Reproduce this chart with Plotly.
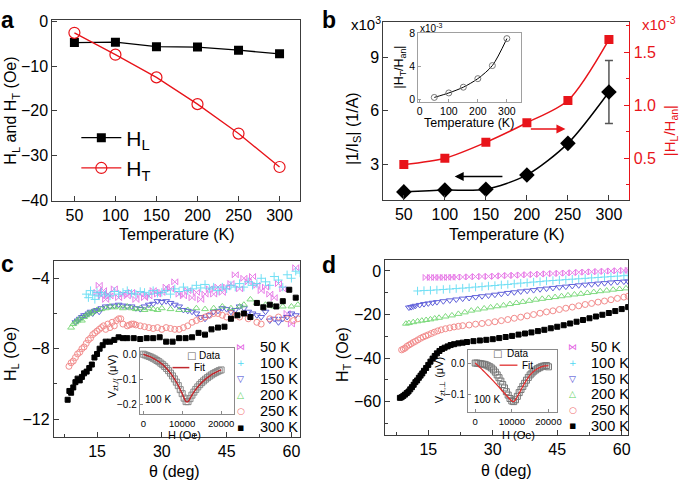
import plotly.graph_objects as go

FONT = "Arial, 'Liberation Sans', sans-serif"
W, H = 685, 490


def fx(px):
    return px / W


def fy(py):
    return 1 - py / H


# ---------------- data ----------------
temperature = [50, 100, 150, 200, 250, 300]
HL_a = [-4.7, -4.6, -5.6, -5.7, -6.4, -7.2]
HT_a = [-2.5, -7.4, -12.5, -18.5, -25.1, -32.6]

inv_Is = [1.45, 1.55, 1.6, 2.4, 4.17, 7.05]          # x10^3 (1/A)
inv_Is_err = [0, 0, 0, 0, 0, 1.76]
HL_Han = [0.44, 0.50, 0.65, 0.835, 1.045, 1.62]       # x10^-3
HT_Han = [0.2, 0.75, 1.45, 2.5, 4.1, 7.4]             # x10^-3 (inset)

# panel c : H_L vs theta
c50_t = [15, 15.5, 16, 16.5, 17, 17.5, 18, 19, 20, 21, 22, 23, 24, 25, 26, 27, 28, 29, 30, 31, 32, 33, 34, 35,
         36, 37, 38, 39, 40, 41, 42, 43, 44, 45, 46, 47, 48, 49, 50, 51, 52, 53, 54, 55, 56, 57, 58, 59, 60, 61]
c50_v = [-4.8, -4.4, -5.0, -4.7, -5.2, -4.9, -5.0, -4.6, -5.1, -4.9, -5.0, -4.8, -5.2, -4.9, -5.1, -5.0, -4.7,
         -4.9, -4.8, -4.5, -4.6, -4.2, -4.9, -5.0, -4.7, -5.1, -4.8, -5.2, -4.9, -4.6, -4.9, -4.5, -4.8, -4.5,
         -4.3, -3.8, -4.6, -4.0, -4.2, -3.9, -4.4, -4.7, -4.5, -4.9, -5.1, -4.3, -4.6, -6.0, -6.6, -3.4]
c100_t = [12.5, 13, 13.5, 14, 14.5, 15, 15.5, 16, 17, 18, 19, 20, 21, 22, 23, 24, 25, 26, 27, 28, 29, 30, 31,
          32, 33, 34, 35, 36, 37, 38, 39, 40, 41, 42, 43, 44, 45, 46, 47, 48, 49, 50, 51, 52, 53, 54, 55, 56,
          57, 58, 59, 60, 61, 62]
c100_v = [-4.9, -5.1, -4.7, -4.95, -5.2, -4.8, -5.0, -4.8, -4.9, -5.0, -4.75, -4.9, -4.8, -4.7, -4.85, -4.9,
          -4.75, -4.8, -4.9, -4.7, -4.85, -4.8, -4.7, -4.9, -4.6, -4.75, -4.5, -4.7, -4.6, -4.4, -4.55, -4.35,
          -4.6, -4.5, -4.7, -4.5, -4.6, -4.4, -4.5, -4.3, -4.5, -4.2, -4.4, -4.3, -4.0, -4.2, -4.4, -3.9, -4.1,
          -4.5, -3.8, -4.0, -3.6, -3.7]
c150_t = [10, 10.5, 11, 11.5, 12, 12.5, 13, 13.5, 14, 14.5, 15, 15.5, 16, 17, 18, 19, 20, 21, 22, 23, 24, 25,
          26, 27, 28, 29, 30, 31, 32, 33, 34, 35, 36, 37, 38, 39, 40, 41, 42, 43, 44, 45, 46, 47, 48, 49, 50,
          51, 52, 53, 54, 55, 56, 57, 58, 59, 60, 61]
c150_v = [-6.5, -6.4, -6.3, -6.2, -6.1, -6.1, -6.0, -5.9, -6.0, -5.85, -5.8, -5.9, -5.7, -5.6, -5.6, -5.55,
          -5.5, -5.55, -5.6, -5.6, -5.7, -5.75, -5.6, -5.5, -5.45, -5.3, -5.35, -5.3, -5.4, -5.5, -5.6, -5.8,
          -5.85, -5.9, -6.0, -6.2, -6.3, -6.1, -5.9, -5.85, -5.7, -5.75, -5.9, -5.8, -5.6, -5.7, -5.9, -6.0,
          -6.1, -6.2, -5.9, -6.4, -6.3, -6.5, -6.3, -6.2, -6.0, -6.1]
c200_t = [9, 9.5, 10, 10.5, 11, 11.5, 12, 12.5, 13, 13.5, 14, 15, 16, 17, 18, 19, 20, 21, 22, 23, 24, 25, 26,
          27, 28, 29, 30, 32, 34, 36, 38, 40, 42, 44, 46, 48, 49, 50.5, 52, 54, 56, 58, 60, 61.5]
c200_v = [-6.8, -6.6, -6.5, -6.4, -6.3, -6.4, -6.2, -6.1, -6.0, -6.0, -5.9, -5.8, -5.75, -5.7, -5.6, -5.65,
          -5.6, -5.7, -5.6, -5.7, -5.75, -5.7, -5.8, -5.7, -5.75, -5.8, -5.7, -5.75, -5.8, -5.8, -5.7, -5.75,
          -5.7, -5.6, -5.7, -5.6, -5.5, -5.2, -5.4, -5.5, -5.6, -5.6, -5.6, -5.5]
c250_t = [8.5, 9, 9.5, 10, 10.5, 11, 11.5, 12, 12.5, 13, 13.5, 14, 14.5, 15, 15.5, 16, 16.5, 17, 17.5, 18,
          18.5, 19, 19.5, 20, 20.5, 21, 22, 22.5, 23, 23.5, 24, 25, 26, 27, 28, 29, 30, 31, 32, 33, 34, 35, 36,
          37, 38, 39, 40, 41, 42, 43, 44, 45, 46, 47, 48, 50, 52, 53, 55, 57, 59, 60.5, 61.5]
c250_v = [-9.0, -8.8, -8.7, -8.5, -8.3, -8.2, -8.0, -7.9, -7.7, -7.5, -7.4, -7.2, -7.1, -7.0, -6.9, -6.8,
          -6.7, -6.9, -6.6, -6.8, -6.5, -6.7, -6.4, -6.3, -6.3, -6.6, -6.7, -6.65, -6.6, -6.6, -6.65, -6.7,
          -6.75, -6.8, -6.85, -6.8, -6.9, -6.8, -6.85, -6.9, -6.9, -6.8, -6.7, -6.5, -6.4, -6.3, -6.2, -6.1,
          -6.0, -6.0, -6.1, -6.2, -6.0, -6.1, -6.2, -6.3, -6.5, -6.6, -6.3, -6.2, -6.3, -6.4, -6.3]
c300_t = [8.2, 8.6, 9.0, 9.5, 10.0, 10.5, 11.0, 11.5, 12.0, 12.6, 13.2, 13.8, 14.4, 15.0, 15.6, 16.3, 17.0,
          18.0, 19.0, 20.0, 21.0, 22.0, 23.5, 25.0, 26.5, 28.0, 29.5, 31.0, 32.5, 34.0, 35.5, 37.0, 38.5, 40.0,
          41.5, 43.0, 44.5, 46.0, 47.5, 49.0, 50.5, 52.0, 53.5, 55.0, 56.5, 58.0, 59.5, 61.0]
c300_v = [-10.9, -10.4, -10.5, -10.2, -9.9, -9.7, -9.8, -9.6, -9.4, -9.3, -9.1, -8.9, -8.5, -8.3, -8.0, -7.8,
          -7.6, -7.6, -7.5, -7.35, -7.4, -7.4, -7.4, -7.45, -7.4, -7.4, -7.35, -7.6, -7.6, -7.4, -7.4, -7.35,
          -7.1, -7.2, -6.9, -6.8, -6.75, -6.3, -6.1, -6.0, -6.2, -5.4, -5.65, -5.5, -5.6, -5.3, -4.65, -5.1]

# panel d : H_T vs theta
d50_t = [14.5, 15.5, 16.5, 17.5, 18.5, 19.5, 20.5, 21.5, 23, 24.5, 26, 27.5, 29, 30.5, 32, 33.5, 35, 36.5, 38,
         39.5, 41, 42.5, 44, 45.5, 47, 48.5, 50, 51.5, 53, 54.5, 56, 57.5, 59, 60.5, 61.5]
d50_v = [-3.0, -3.0, -3.0, -3.0, -3.0, -2.95, -2.9, -2.85, -2.8, -2.7, -2.6, -2.55, -2.5, -2.4, -2.2, -2.1,
         -2.0, -1.85, -1.7, -1.6, -1.45, -1.3, -1.2, -1.05, -0.95, -0.8, -0.6, -0.5, -0.4, -0.25, -0.1, 0.0,
         0.1, 0.2, 0.3]
d100_t = [12.5, 14, 15.5, 17, 18.5, 20, 21.5, 23, 24.5, 26, 27.5, 29, 30.5, 32, 33.5, 35, 36.5, 38, 39.5, 41,
          42.5, 44, 45.5, 47, 48.5, 50, 51.5, 53, 54.5, 56, 57.5, 59, 60.5, 61.5]
d100_v = [-9.2, -9.0, -8.9, -8.7, -8.5, -8.3, -8.1, -7.9, -7.7, -7.4, -7.2, -6.9, -6.7, -6.4, -6.2, -5.9,
          -5.6, -5.4, -5.1, -4.9, -4.6, -4.4, -4.2, -4.0, -3.8, -3.6, -3.4, -3.2, -3.0, -2.8, -2.6, -2.4,
          -2.2, -2.0]
d150_t = [10.5, 11, 11.5, 12, 13, 14, 15, 16, 17, 18.5, 20, 21.5, 23, 24.5, 26, 27.5, 29, 30.5, 32, 33.5,
          35, 36.5, 38, 39.5, 41, 42.5, 44, 45.5, 47, 48.5, 50, 51.5, 53, 54.5, 56, 57.5, 59, 60.5, 61.5]
d150_v = [-16.8, -16.6, -16.3, -16.0, -15.6, -15.2, -14.9, -14.6, -14.3, -13.9, -13.5, -13.1, -12.7, -12.4,
          -12.0, -11.6, -11.3, -10.9, -10.5, -10.1, -9.8, -9.4, -9.1, -8.8, -8.4, -8.1, -7.8, -7.5, -7.2,
          -6.9, -6.6, -6.3, -6.1, -5.8, -5.6, -5.3, -5.1, -4.9, -4.8]
d200_t = [9.8, 10.5, 11.5, 12.5, 13.5, 14.5, 15.5, 16.5, 17.5, 19, 20.5, 22, 23.5, 25, 26.5, 28, 29.5, 31,
          32.5, 34, 35.5, 37, 38.5, 40, 41.5, 43, 44.5, 46, 47.5, 49, 50.5, 52, 53.5, 55, 56.5, 58, 59.5, 61]
d200_v = [-24.2, -23.9, -23.5, -23.1, -22.8, -22.5, -22.2, -21.8, -21.5, -20.9, -20.4, -19.7, -19.0, -18.2,
          -17.7, -17.2, -16.7, -16.2, -15.8, -15.2, -14.7, -14.2, -13.7, -13.2, -12.8, -12.4, -12.0, -11.6,
          -11.2, -10.8, -10.5, -10.1, -9.7, -9.3, -9.0, -8.6, -8.3, -8.0]
d250_t = [8.8, 9.2, 9.6, 10.0, 10.5, 11.0, 11.5, 12.0, 12.6, 13.2, 13.8, 14.4, 15.0, 15.7, 16.4, 17.2, 18.0,
          19.0, 20.0, 21.0, 22.0, 23.0, 24.5, 26.0, 27.5, 29.0, 30.5, 32.0, 33.5, 35.0, 36.5, 38.0, 39.5,
          41.0, 42.5, 44.0, 45.5, 47.0, 48.5, 50.0, 51.5, 53.0, 54.5, 56.0, 57.5, 59.0, 60.5, 61.5]
d250_v = [-36.2, -35.8, -35.4, -34.6, -34.0, -33.4, -32.8, -32.3, -31.6, -30.9, -30.3, -29.8, -29.3, -28.7,
          -28.1, -27.5, -27.0, -26.5, -26.1, -25.7, -25.4, -25.1, -24.8, -24.4, -24.1, -23.7, -23.3, -22.8,
          -22.3, -21.7, -21.2, -20.6, -20.0, -19.4, -18.8, -18.3, -17.7, -17.1, -16.6, -16.0, -15.4, -14.9,
          -14.3, -13.8, -13.2, -12.6, -12.0, -11.6]
d300_t = [8.4, 8.8, 9.2, 9.6, 10.0, 10.4, 10.8, 11.2, 11.6, 12.0, 12.4, 12.8, 13.2, 13.6, 14.0, 14.5, 15.0,
          15.5, 16.0, 16.5, 17.0, 17.6, 18.2, 18.8, 19.5, 20.2, 21.0, 22.0, 23.0, 24.0, 25.5, 27.0, 28.5, 30.0,
          31.5, 33.0, 34.5, 36.0, 37.5, 39.0, 40.5, 42.0, 43.5, 45.0, 46.5, 48.0, 49.5, 51.0, 52.5, 54.0, 55.5,
          57.0, 58.5, 60.0, 61.5]
d300_v = [-58.2, -57.9, -57.3, -56.7, -56.0, -55.3, -54.3, -53.3, -52.2, -51.0, -50.2, -49.0, -48.0, -47.0,
          -45.8, -44.5, -43.1, -41.6, -40.2, -39.0, -37.8, -36.7, -35.8, -35.2, -34.6, -34.0, -33.6, -33.2,
          -32.9, -32.6, -32.2, -31.9, -31.6, -31.3, -30.8, -30.3, -29.8, -29.2, -28.7, -28.2, -27.6, -27.0,
          -26.3, -25.6, -24.9, -24.1, -23.3, -22.5, -21.7, -20.9, -20.1, -19.3, -18.4, -17.5, -16.6]

# insets (100 K field sweeps)
inC_H = [0, 500, 1000, 1500, 2000, 2500, 3000, 3500, 4000, 4500, 5000, 5500, 6000, 6500, 7000, 7500, 8000,
         8500, 9000, 9500, 10000, 10500, 11000, 11500, 12000, 12500, 13000, 13500, 14000, 14500, 15000,
         15500, 16000, 16500, 17000, 17500, 18000, 18500, 19000, 19500, 20000]
inC_V = [0.0, -0.003, -0.006, -0.009, -0.012, -0.016, -0.02, -0.025, -0.03, -0.036, -0.042, -0.049, -0.057,
         -0.066, -0.076, -0.087, -0.099, -0.112, -0.126, -0.142, -0.158, -0.176, -0.19, -0.19, -0.178, -0.164,
         -0.152, -0.141, -0.131, -0.122, -0.114, -0.107, -0.1, -0.094, -0.088, -0.083, -0.078, -0.074,
         -0.07, -0.066, -0.063]
fitC_H = inC_H
fitC_V = inC_V
inD_H = [0, 500, 1000, 1500, 2000, 2500, 3000, 3500, 4000, 4500, 5000, 5500, 6000, 6500, 7000, 7500, 8000,
         8500, 9000, 9500, 10000, 10500, 11000, 11500, 12000, 12500, 13000, 13500, 14000, 14500, 15000,
         15500, 16000, 16500, 17000, 17500, 18000, 18500, 19000, 19500, 20000]
inD_V = [0.0, 0.0, -0.001, -0.002, -0.003, -0.004, -0.006, -0.009, -0.012, -0.016, -0.022, -0.029, -0.038,
         -0.047, -0.058, -0.069, -0.08, -0.092, -0.103, -0.114, -0.122, -0.124, -0.118, -0.107, -0.095,
         -0.085, -0.075, -0.065, -0.055, -0.046, -0.038, -0.032, -0.026, -0.022, -0.018, -0.015, -0.012,
         -0.01, -0.009, -0.008, -0.012]
fitD_H = [0, 1000, 2000, 3000, 4000, 5000, 6000, 7000, 8000, 9000, 10000, 10500, 11000, 12000, 13000, 14000,
          15000, 16000, 17000, 18000, 19000, 20000]
fitD_V = [0.0, -0.011, -0.022, -0.034, -0.046, -0.058, -0.071, -0.084, -0.097, -0.11, -0.122, -0.124,
          -0.118, -0.097, -0.075, -0.055, -0.038, -0.026, -0.018, -0.012, -0.009, -0.008]

series_labels = ["50 K", "100 K", "150 K", "200 K", "250 K", "300 K"]
series_colors = ["#e35fe3", "#4fd8f2", "#3c3cd2", "#5fd25f", "#f07070", "#000000"]
series_symbols = ["bowtie-open", "cross-thin-open", "triangle-down-open", "triangle-up-open",
                  "circle-open", "square"]
legend_glyphs = ["\u22c8", "+", "\u25bd", "\u25b3", "\u25cb", "\u25aa"]

# ---------------- figure ----------------
fig = go.Figure()

RED = "#e8141a"
# panel a
fig.add_trace(go.Scatter(x=temperature, y=HL_a, mode="lines+markers", name="H<sub>L</sub>",
                         line=dict(color="black", width=1.3),
                         marker=dict(symbol="square", size=9, color="black"),
                         xaxis="x", yaxis="y", legend="legend"))
fig.add_trace(go.Scatter(x=temperature, y=HT_a, mode="lines+markers", name="H<sub>T</sub>",
                         line=dict(color=RED, width=1.3),
                         marker=dict(symbol="circle-open", size=11, color=RED, line=dict(width=1.2)),
                         xaxis="x", yaxis="y", legend="legend"))

# panel b
fig.add_trace(go.Scatter(x=temperature, y=HL_Han, mode="lines+markers", line=dict(color=RED, width=1.5,
                         shape="spline", smoothing=0.8),
                         marker=dict(symbol="square", size=9, color=RED), showlegend=False,
                         xaxis="x2", yaxis="y3"))
fig.add_trace(go.Scatter(x=temperature, y=inv_Is, mode="lines+markers",
                         line=dict(color="black", width=1.5, shape="spline", smoothing=0.8),
                         marker=dict(symbol="diamond", size=12, color="black"),
                         error_y=dict(type="data", array=inv_Is_err, color="#555555", thickness=1.5, width=4),
                         showlegend=False, xaxis="x2", yaxis="y2"))
# inset b
fig.add_trace(go.Scatter(x=temperature, y=HT_Han, mode="lines+markers",
                         line=dict(color="black", width=1, shape="spline", smoothing=0.8),
                         marker=dict(symbol="circle-open", size=6, color="#777777", line=dict(width=1)),
                         showlegend=False, xaxis="x3", yaxis="y4"))

# panel c
c_sets = [(c50_t, c50_v), (c100_t, c100_v), (c150_t, c150_v), (c200_t, c200_v), (c250_t, c250_v),
          (c300_t, c300_v)]
for (tt, vv), lab, col, sym in zip(c_sets, series_labels, series_colors, series_symbols):
    fig.add_trace(go.Scatter(x=tt, y=vv, mode="markers", name=lab, showlegend=False,
                             marker=dict(symbol=sym, size=6 if sym != "square" else 5, color=col,
                                         line=dict(width=1, color=col)),
                             opacity=0.8 if col != "#000000" else 1, xaxis="x4", yaxis="y5"))
# inset c
fig.add_trace(go.Scatter(x=inC_H, y=inC_V, mode="markers", showlegend=False,
                         marker=dict(symbol="square-open", size=6, color="#888888", line=dict(width=1)),
                         xaxis="x5", yaxis="y6"))
fig.add_trace(go.Scatter(x=fitC_H, y=fitC_V, mode="lines", showlegend=False,
                         line=dict(color="#c0282d", width=1.5, shape="spline"), xaxis="x5", yaxis="y6"))

# panel d
d_sets = [(d50_t, d50_v), (d100_t, d100_v), (d150_t, d150_v), (d200_t, d200_v), (d250_t, d250_v),
          (d300_t, d300_v)]
for (tt, vv), lab, col, sym in zip(d_sets, series_labels, series_colors, series_symbols):
    fig.add_trace(go.Scatter(x=tt, y=vv, mode="markers", name=lab, showlegend=False,
                             marker=dict(symbol=sym, size=6 if sym != "square" else 5, color=col,
                                         line=dict(width=1, color=col)),
                             opacity=0.8 if col != "#000000" else 1, xaxis="x6", yaxis="y7"))
# inset d
fig.add_trace(go.Scatter(x=inD_H, y=inD_V, mode="markers", showlegend=False,
                         marker=dict(symbol="square-open", size=6, color="#777777", line=dict(width=1)),
                         xaxis="x7", yaxis="y8"))
fig.add_trace(go.Scatter(x=fitD_H, y=fitD_V, mode="lines", showlegend=False,
                         line=dict(color="#e03030", width=1.3, shape="spline"), xaxis="x7", yaxis="y8"))

LC = "#3c3c3c"


def axis(domain, rng, anchor, dtick, tick0=0, size=16, minor=None, color=LC, mirror=True, ticklen=5,
         fmt=None, labcolor="black", **kw):
    d = dict(domain=domain, range=rng, anchor=anchor, tickmode="linear", dtick=dtick, tick0=tick0,
             ticks="inside", ticklen=ticklen, tickwidth=1, tickcolor=color, showline=True, linecolor=color,
             linewidth=1, mirror=mirror, showgrid=False, zeroline=False,
             tickfont=dict(size=size, color=labcolor, family=FONT))
    if minor:
        d["minor"] = dict(dtick=minor, tick0=tick0, ticks="inside", ticklen=max(2, ticklen * 0.6),
                          tickcolor=color, showgrid=False)
    if fmt:
        d["tickformat"] = fmt
    d.update(kw)
    return d


fig.update_layout(
    width=W, height=H, margin=dict(l=0, r=0, t=0, b=0),
    paper_bgcolor="white", plot_bgcolor="rgba(0,0,0,0)",
    font=dict(family=FONT, color="black"),
    xaxis=axis([fx(51.7), fx(301.7)], [23, 325], "y", 50),
    yaxis=axis([fy(200), fy(13.3)], [-40.2, 0.4], "x", 10),
    xaxis2=axis([fx(385.7), fx(634)], [25, 325], "y2", 50),
    yaxis2=axis([fy(199), fy(15)], [1.0, 11.0], "x2", 3, mirror=False),
    yaxis3=dict(overlaying="y2", side="right", anchor="x2", range=[0.107, 1.79], tickmode="linear",
                dtick=0.5, tick0=0, tickformat=".1f", ticks="inside", ticklen=5, tickcolor=RED,
                showline=True, linecolor=RED, linewidth=1, showgrid=False, zeroline=False,
                tickfont=dict(size=16, color=RED, family=FONT),
                minor=dict(dtick=0.25, tick0=0, ticks="inside", ticklen=3, tickcolor=RED)),
    xaxis3=axis([fx(421), fx(525)], [-5, 350], "y4", 100, size=10.5, color="#a0a0a0", ticklen=3),
    yaxis4=axis([fy(97.5), fy(26.7)], [-0.3, 8.1], "x3", 4, size=10.5, color="#a0a0a0", ticklen=3),
    xaxis4=axis([fx(53.3), fx(301.7)], [5, 62], "y5", 15, minor=7.5),
    yaxis5=axis([fy(443.3), fy(261.7)], [-13, -3], "x4", 4, minor=2),
    xaxis5=axis([fx(140), fx(235)], [-900, 23300], "y6", 10000, size=9.5, color="#8a8a8a", ticklen=3,
                fmt="d"),
    yaxis6=axis([fy(420), fy(351.7)], [-0.24, 0.025], "x5", 0.1, size=10, color="#8a8a8a", ticklen=3,
                fmt=".1f"),
    xaxis6=axis([fx(387.7), fx(632.7)], [5, 61.5], "y7", 15, minor=7.5),
    yaxis7=axis([fy(441), fy(261)], [-75, 5], "x6", 20, minor=10),
    xaxis7=axis([fx(471), fx(561)], [-2000, 22350], "y8", 10000, size=9.5, color="#8a8a8a", ticklen=3,
                fmt="d"),
    yaxis8=axis([fy(418.3), fy(354)], [-0.159, 0.0416], "x7", 0.1, size=10, color="#8a8a8a", ticklen=3,
                fmt=".1f"),
    legend=dict(x=fx(76), y=fy(114), xanchor="left", yanchor="top", bgcolor="rgba(0,0,0,0)",
                font=dict(size=21, family=FONT, color="black"), itemwidth=40, tracegroupgap=0),
)

ann = []


def text(x, y, s, size=16, color="black", angle=0, xanchor="center", bold=False, fam=FONT):
    ann.append(dict(x=fx(x), y=fy(y), xref="paper", yref="paper", text=("<b>%s</b>" % s) if bold else s,
                    showarrow=False, textangle=angle, xanchor=xanchor, yanchor="middle",
                    font=dict(size=size, color=color, family=fam)))


# panel labels
text(7, 13, "a", size=23, bold=True)
text(331, 13, "b", size=23, bold=True)
text(7, 265, "c", size=23, bold=True)
text(331, 266, "d", size=23, bold=True)

# axis titles
text(11, 107, "H<sub>L</sub> and H<sub>T</sub> (Oe)", angle=-90)
text(178, 235, "Temperature (K)")
text(355, 125, "|1/I<sub>S</sub>| (1/A)", angle=-90)
text(510, 235, "Temperature (K)")
text(675, 128, "|H<sub>L</sub>/H<sub>an</sub>|", size=15, color=RED, angle=-90)
text(368, 17, "x10<sup>3</sup>", size=15)
text(683, 17, "x10<sup>-3</sup>", size=15, color=RED, xanchor="right")
text(403, 62, "|H<sub>T</sub>/H<sub>an</sub>|", size=12.5, angle=-90)
text(472, 120, "Temperature (K)", size=12.5)
text(434, 22, "x10<sup>-3</sup>", size=10)
text(10, 358, "H<sub>L</sub> (Oe)", angle=-90)
text(175, 479, "\u03b8 (deg)")
text(345, 358, "H<sub>T</sub> (Oe)", angle=-90)
text(510, 478, "\u03b8 (deg)")
text(113, 381, "V<sub>zt,//</sub> (\u03bcV)", size=11, angle=-90)
text(185, 442, "H (Oe)", size=11)
text(443, 385, "V<sub>zt,\u22a5</sub> (\u03bcV)", size=11, angle=-90)
text(522, 442, "H (Oe)", size=11)
text(143, 405, "100 K", size=10, xanchor="left")
text(475, 405, "100 K", size=10, xanchor="left")
# inset legends
text(191.7, 360, "\u25a1", size=10, color="#666666", fam="DejaVu Sans")
text(198, 360, "Data", size=10, xanchor="left")
text(193, 372, "Fit", size=10, xanchor="left")
text(501, 357.5, "\u25a1", size=10, color="#666666", fam="DejaVu Sans")
text(508, 357.5, "Data", size=10, xanchor="left")
text(524, 369.5, "Fit", size=10, xanchor="left")

# c / d series keys
rows_c = [350.5, 367.1, 383.7, 400.3, 416.9, 433.5]
rows_d = [351.0, 367.2, 383.4, 399.6, 415.8, 432.0]
for lab, col, g, yc, yd in zip(series_labels, series_colors, legend_glyphs, rows_c, rows_d):
    gs = 9 if g not in ("\u25aa",) else 11
    text(242, yc, g, size=gs, color=col, fam="DejaVu Sans")
    text(259, yc, lab, size=14.5, xanchor="left")
    text(577, yd, g, size=gs, color=col, fam="DejaVu Sans")
    text(593, yd, lab, size=14.5, xanchor="left")

# arrows in b
ann.append(dict(x=247, y=4.97, ax=203, ay=4.97, xref="x2", yref="y2", axref="x2", ayref="y2",
                showarrow=True, arrowhead=2, arrowsize=1.2, arrowwidth=1.5, arrowcolor=RED, text=""))
ann.append(dict(x=112, y=2.31, ax=172, ay=2.31, xref="x2", yref="y2", axref="x2", ayref="y2",
                showarrow=True, arrowhead=2, arrowsize=1.2, arrowwidth=1.5, arrowcolor="black", text=""))

shapes = [
    dict(type="line", xref="paper", yref="paper", x0=fx(173), x1=fx(190), y0=fy(372), y1=fy(372),
         line=dict(color="#c0282d", width=1.5)),
    dict(type="line", xref="paper", yref="paper", x0=fx(503), x1=fx(521), y0=fy(369.5), y1=fy(369.5),
         line=dict(color="#e03030", width=1.3)),
]

fig.update_layout(annotations=ann, shapes=shapes)
fig.write_html("out.html", config={"displayModeBar": False},
               post_script="document.body.style.margin='0';document.body.style.overflow='hidden';")
